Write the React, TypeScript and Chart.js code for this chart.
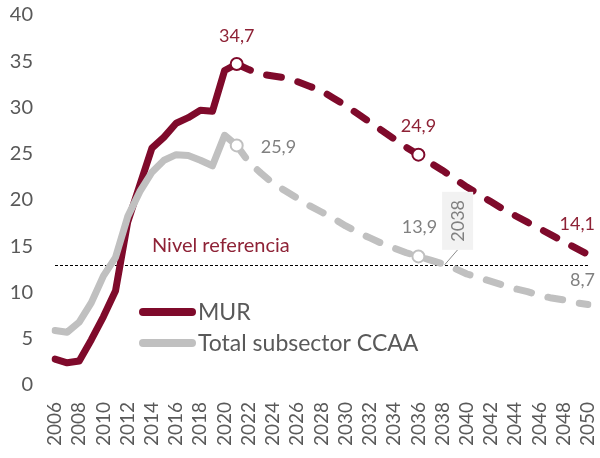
import { useEffect, useRef } from 'react';
import { Chart, registerables } from 'chart.js';

Chart.register(...registerables);

const years = [
  2006, 2007, 2008, 2009, 2010, 2011, 2012, 2013, 2014, 2015, 2016, 2017, 2018, 2019, 2020,
  2021, 2022, 2023, 2024, 2025, 2026, 2027, 2028, 2029, 2030, 2031, 2032, 2033, 2034, 2035,
  2036, 2037, 2038, 2039, 2040, 2041, 2042, 2043, 2044, 2045, 2046, 2047, 2048, 2049, 2050,
];

const murValues = [
  2.8, 2.4, 2.6, 4.9, 7.4, 10.2, 17.6, 21.6, 25.6, 26.8, 28.3, 28.9, 29.7, 29.6, 34.0,
  34.7, 34.1, 33.6, 33.4, 33.2, 32.8, 32.3, 31.8, 31.0, 30.2, 29.3, 28.4, 27.5, 26.6, 25.7,
  24.9, 24.0, 23.2, 22.3, 21.4, 20.6, 19.8, 19.0, 18.3, 17.6, 16.9, 16.2, 15.5, 14.8, 14.1,
];

const ccaaValues = [
  5.9, 5.7, 6.8, 8.9, 11.8, 13.8, 18.2, 20.9, 23.0, 24.3, 24.9, 24.8, 24.3, 23.7, 27.0,
  25.9, 24.1, 22.9, 21.8, 21.0, 20.2, 19.4, 18.7, 18.0, 17.2, 16.5, 15.9, 15.3, 14.8, 14.3,
  13.9, 13.5, 13.1, 12.6, 12.0, 11.6, 11.2, 10.8, 10.4, 10.1, 9.7, 9.4, 9.2, 8.9, 8.7,
];

const seriesNames = ['MUR', 'Total subsector CCAA'];
const yTicks = [0, 5, 10, 15, 20, 25, 30, 35, 40];
const referenceLevel = 13;
const referenceLabel = 'Nivel referencia';
const forecastStartYear = 2021;
const markerYears = [2021, 2036];
const labelYears = [2021, 2036, 2050];
const calloutYear = 2038;

const FONT = 'Lato, "DejaVu Sans", sans-serif';
const MUR_COLOR = '#7F0A2B';
const MUR_TEXT = '#8E2236';
const CCAA_COLOR = '#C0C0C0';
const CCAA_TEXT = '#808080';
const TICK_COLOR = '#595959';

const fmt = (v: number) => String(v.toFixed(1)).replace('.', ',');

const forecastIndex = years.indexOf(forecastStartYear);

// label placement per series: [dx, dy, align] for each labelYear
const labelPlacement: Array<Array<[number, number, CanvasTextAlign]>> = [
  [[0, -28, 'center'], [0, -28, 'center'], [7, -30, 'right']],
  [[24, 2, 'left'], [1, -29, 'center'], [7, -24, 'right']],
];

const annotationsPlugin = {
  id: 'customAnnotations',
  beforeDatasetsDraw(chart: any) {
    const { ctx, chartArea, scales } = chart;
    const y = scales.y;
    const yRef = Math.round(y.getPixelForValue(referenceLevel)) + 0.5;
    ctx.save();
    ctx.strokeStyle = '#000000';
    ctx.lineWidth = 1;
    ctx.setLineDash([3, 2]);
    ctx.beginPath();
    ctx.moveTo(chartArea.left, yRef);
    ctx.lineTo(chartArea.right + 2, yRef);
    ctx.stroke();
    ctx.setLineDash([]);
    ctx.fillStyle = MUR_TEXT;
    ctx.font = `20px ${FONT}`;
    ctx.textAlign = 'left';
    ctx.textBaseline = 'middle';
    ctx.fillText(referenceLabel, chartArea.left + 97, yRef - 20);
    ctx.restore();
  },
  afterDatasetsDraw(chart: any) {
    const { ctx, chartArea, scales } = chart;
    const x = scales.x;
    const y = scales.y;
    ctx.save();

    // value labels
    const seriesData = [murValues, ccaaValues];
    const seriesText = [MUR_TEXT, CCAA_TEXT];
    ctx.font = `18px ${FONT}`;
    ctx.textBaseline = 'middle';
    seriesData.forEach((vals, si) => {
      labelYears.forEach((yr, li) => {
        const idx = years.indexOf(yr);
        const px = x.getPixelForValue(idx);
        const py = y.getPixelForValue(vals[idx]);
        const [dx, dy, align] = labelPlacement[si][li];
        ctx.fillStyle = seriesText[si];
        ctx.textAlign = align;
        ctx.fillText(fmt(vals[idx]), px + dx, py + dy);
      });
    });

    // callout for year where CCAA crosses reference
    const ci = years.indexOf(calloutYear);
    const cx = x.getPixelForValue(ci);
    const cy = y.getPixelForValue(ccaaValues[ci]);
    const boxW = 31;
    const boxH = 58;
    const boxCx = cx + 15;
    const boxBottom = cy - 14;
    ctx.strokeStyle = '#8C8C8C';
    ctx.lineWidth = 1;
    ctx.beginPath();
    ctx.moveTo(cx + 2, cy + 1);
    ctx.lineTo(boxCx, boxBottom);
    ctx.stroke();
    ctx.fillStyle = '#F2F2F2';
    ctx.fillRect(boxCx - boxW / 2, boxBottom - boxH, boxW, boxH);
    ctx.save();
    ctx.translate(boxCx, boxBottom - boxH / 2);
    ctx.rotate(-Math.PI / 2);
    ctx.fillStyle = CCAA_TEXT;
    ctx.textAlign = 'center';
    ctx.textBaseline = 'middle';
    ctx.font = `18px ${FONT}`;
    ctx.fillText(String(calloutYear), 0, 1);
    ctx.restore();

    // legend
    const colors = [MUR_COLOR, CCAA_COLOR];
    const lx0 = chartArea.left + 88;
    const lx1 = chartArea.left + 137;
    seriesNames.forEach((name, i) => {
      const ly = chartArea.top + 297 + i * 31;
      ctx.strokeStyle = colors[i];
      ctx.lineWidth = 8;
      ctx.lineCap = 'round';
      ctx.beginPath();
      ctx.moveTo(lx0, ly);
      ctx.lineTo(lx1, ly);
      ctx.stroke();
      ctx.fillStyle = TICK_COLOR;
      ctx.font = `23px ${FONT}`;
      ctx.textAlign = 'left';
      ctx.textBaseline = 'middle';
      ctx.fillText(name, lx1 + 6, ly + 1);
    });

    ctx.restore();
  },
};

export default function App() {
  const canvasRef = useRef<HTMLCanvasElement | null>(null);

  useEffect(() => {
    document.body.style.margin = '0';
    const canvas = canvasRef.current;
    if (!canvas) return;

    const makeSeries = (label: string, data: number[], color: string) => ({
      label,
      data,
      borderColor: color,
      backgroundColor: '#FFFFFF',
      borderWidth: 7,
      borderCapStyle: 'round' as const,
      borderJoinStyle: 'round' as const,
      tension: 0,
      fill: false,
      pointRadius: (c: any) => (markerYears.includes(years[c.dataIndex]) ? 6 : 0),
      pointBorderWidth: 2,
      pointBorderColor: color,
      pointBackgroundColor: '#FFFFFF',
      pointHoverRadius: 0,
      segment: {
        borderDash: (c: any) => (c.p0DataIndex >= forecastIndex ? [15, 17] : undefined),
      },
    });

    const chart = new Chart(canvas, {
      type: 'line',
      data: {
        labels: years.map(String),
        datasets: [
          makeSeries(seriesNames[1], ccaaValues, CCAA_COLOR),
          makeSeries(seriesNames[0], murValues, MUR_COLOR),
        ],
      },
      options: {
        responsive: false,
        animation: false,
        layout: { padding: { top: 15, right: 12, bottom: 0, left: 0 } },
        plugins: {
          legend: { display: false },
          tooltip: { enabled: false },
        },
        scales: {
          x: {
            type: 'category',
            offset: false,
            grid: { display: false, drawTicks: false },
            border: { display: false },
            ticks: {
              autoSkip: false,
              minRotation: 90,
              maxRotation: 90,
              padding: 17,
              color: TICK_COLOR,
              font: { family: FONT, size: 19 },
              callback: (_v: any, i: number) => (years[i] % 2 === 0 ? String(years[i]) : ''),
            },
            afterFit: (s: any) => {
              s.height = 73;
              s.paddingLeft = 0;
              s.paddingRight = 0;
            },
          },
          y: {
            min: 0,
            max: 40,
            grid: { display: false, drawTicks: false },
            border: { display: false },
            afterBuildTicks: (s: any) => {
              s.ticks = yTicks.map((v) => ({ value: v }));
            },
            ticks: {
              padding: 22,
              color: TICK_COLOR,
              font: { family: FONT, size: 20 },
            },
            afterFit: (s: any) => {
              s.width = 55;
              s.paddingTop = 0;
              s.paddingBottom = 0;
            },
          },
        },
      },
      plugins: [annotationsPlugin],
    });

    return () => chart.destroy();
  }, []);

  return (
    <div style={{ width: 600, height: 458 }}>
      <canvas ref={canvasRef} width={600} height={458} />
    </div>
  );
}
